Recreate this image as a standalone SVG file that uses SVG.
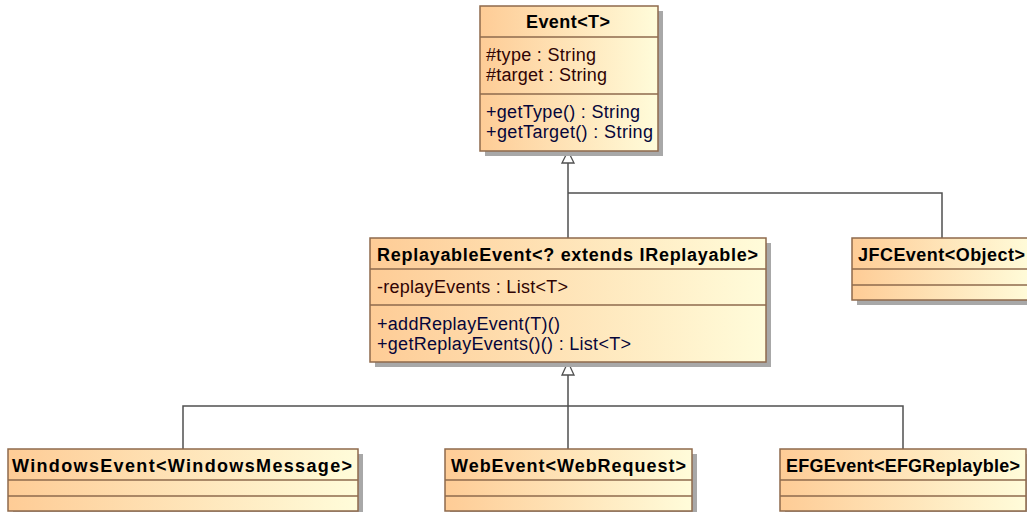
<svg xmlns="http://www.w3.org/2000/svg" width="1027" height="512" viewBox="0 0 1027 512">
<defs>
<linearGradient id="g" x1="0" y1="0" x2="1" y2="0">
<stop offset="0" stop-color="#FECC96"/>
<stop offset="1" stop-color="#FFFCDA"/>
</linearGradient>
</defs>
<style>
.shadow{fill:#A8A8A8}
.box{fill:url(#g);stroke:#8E6A4C;stroke-width:1.5}
.div{stroke:#8E6A4C;stroke-width:1.5}
.hd{font-family:"Liberation Sans",Arial,sans-serif;font-weight:bold;font-size:18px;fill:#000}
.at{font-family:"Liberation Sans",Arial,sans-serif;font-size:18px;fill:#300404}
.op{font-family:"Liberation Sans",Arial,sans-serif;font-size:18px;fill:#06063A}
.ln{fill:none;stroke:#505050;stroke-width:1.5}
.tri{fill:#fff;stroke:#505050;stroke-width:1.3}
</style>
<rect width="1027" height="512" fill="#fff"/>
<g id="connectors">
<path class="ln" d="M568,163 V238 M568,193 H942 V238"/>
<polygon class="tri" points="568,151 562,163 574,163"/>
<path class="ln" d="M568,375 V449 M183,449 V406 H903 V449"/>
<polygon class="tri" points="568,362 562,375 574,375"/>
</g>
<g id="event">
<rect class="shadow" x="485" y="11" width="178" height="145"/>
<rect class="box" x="480" y="6" width="178" height="145"/>
<line class="div" x1="480" y1="37" x2="658" y2="37"/>
<line class="div" x1="480" y1="94" x2="658" y2="94"/>
<text class="hd" x="568" y="28" text-anchor="middle" textLength="84" lengthAdjust="spacing">Event&lt;T&gt;</text>
<text class="at" x="486" y="61" textLength="110" lengthAdjust="spacing">#type : String</text>
<text class="at" x="486" y="81" textLength="121" lengthAdjust="spacing">#target : String</text>
<text class="op" x="486" y="118" textLength="154" lengthAdjust="spacing">+getType() : String</text>
<text class="op" x="486" y="138" textLength="167" lengthAdjust="spacing">+getTarget() : String</text>
</g>
<g id="replayable">
<rect class="shadow" x="375" y="243" width="396" height="124"/>
<rect class="box" x="370" y="238" width="396" height="124"/>
<line class="div" x1="370" y1="269" x2="766" y2="269"/>
<line class="div" x1="370" y1="305" x2="766" y2="305"/>
<text class="hd" x="377" y="261" textLength="381" lengthAdjust="spacing">ReplayableEvent&lt;? extends IReplayable&gt;</text>
<text class="at" x="377" y="293" textLength="191" lengthAdjust="spacing">-replayEvents : List&lt;T&gt;</text>
<text class="op" x="377" y="330" textLength="183" lengthAdjust="spacing">+addReplayEvent(T)()</text>
<text class="op" x="377" y="350" textLength="254" lengthAdjust="spacing">+getReplayEvents()() : List&lt;T&gt;</text>
</g>
<g id="jfc">
<rect class="shadow" x="857" y="243" width="180" height="62"/>
<rect class="box" x="852" y="238" width="180" height="62"/>
<line class="div" x1="852" y1="269" x2="1032" y2="269"/>
<line class="div" x1="852" y1="285" x2="1032" y2="285"/>
<text class="hd" x="858" y="261" textLength="167" lengthAdjust="spacing">JFCEvent&lt;Object&gt;</text>
</g>
<g id="windows">
<rect class="shadow" x="13" y="454" width="350" height="62"/>
<rect class="box" x="8" y="449" width="350" height="62"/>
<line class="div" x1="8" y1="480" x2="358" y2="480"/>
<line class="div" x1="8" y1="496" x2="358" y2="496"/>
<text class="hd" x="12" y="472" textLength="340" lengthAdjust="spacing">WindowsEvent&lt;WindowsMessage&gt;</text>
</g>
<g id="web">
<rect class="shadow" x="450" y="454" width="247" height="62"/>
<rect class="box" x="445" y="449" width="247" height="62"/>
<line class="div" x1="445" y1="480" x2="692" y2="480"/>
<line class="div" x1="445" y1="496" x2="692" y2="496"/>
<text class="hd" x="451" y="472" textLength="235" lengthAdjust="spacing">WebEvent&lt;WebRequest&gt;</text>
</g>
<g id="efg">
<rect class="shadow" x="785" y="454" width="246" height="62"/>
<rect class="box" x="780" y="449" width="246" height="62"/>
<line class="div" x1="780" y1="480" x2="1026" y2="480"/>
<line class="div" x1="780" y1="496" x2="1026" y2="496"/>
<text class="hd" x="786" y="472" textLength="234" lengthAdjust="spacing">EFGEvent&lt;EFGReplayble&gt;</text>
</g>
</svg>
